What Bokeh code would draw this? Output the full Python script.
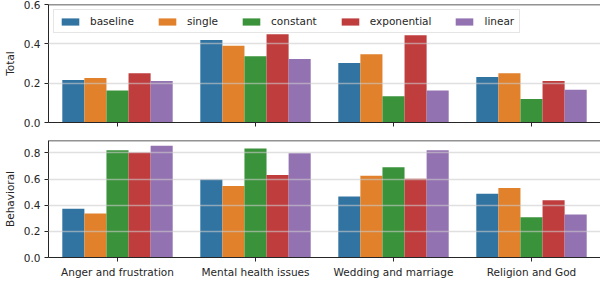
from bokeh.plotting import figure
from bokeh.layouts import column
from bokeh.models import ColumnDataSource, FactorRange, Range1d, FixedTicker, PrintfTickFormatter, Span, Legend
from bokeh.transform import dodge
from bokeh.embed import file_html
from bokeh.resources import INLINE

categories = ["Anger and frustration", "Mental health issues", "Wedding and marriage", "Religion and God"]
series = ["baseline", "single", "constant", "exponential", "linear"]
colors = ["#3274a1", "#e1812c", "#3a923a", "#c03d3e", "#9372b2"]

total_baseline = [0.216, 0.420, 0.303, 0.231]
total_single = [0.226, 0.390, 0.347, 0.250]
total_constant = [0.163, 0.337, 0.133, 0.119]
total_exponential = [0.250, 0.449, 0.444, 0.211]
total_linear = [0.211, 0.323, 0.163, 0.167]

beh_baseline = [0.373, 0.596, 0.466, 0.488]
beh_single = [0.337, 0.546, 0.625, 0.531]
beh_constant = [0.820, 0.834, 0.690, 0.308]
beh_exponential = [0.803, 0.632, 0.603, 0.437]
beh_linear = [0.855, 0.798, 0.820, 0.329]

total_src = ColumnDataSource(dict(cat=categories, baseline=total_baseline, single=total_single,
                                  constant=total_constant, exponential=total_exponential, linear=total_linear))
beh_src = ColumnDataSource(dict(cat=categories, baseline=beh_baseline, single=beh_single,
                                constant=beh_constant, exponential=beh_exponential, linear=beh_linear))

offsets = [-0.32, -0.16, 0.0, 0.16, 0.32]
FONT = "DejaVu Sans"
FS = "10.5px"
DARK = "#262626"


def style(p, ymax, ticks, ylabel, show_xlabels):
    p.y_range = Range1d(0, ymax)
    p.yaxis.ticker = FixedTicker(ticks=ticks)
    p.yaxis.formatter = PrintfTickFormatter(format="%.1f")
    p.yaxis.axis_label = ylabel
    for ax in (p.xaxis[0], p.yaxis[0]):
        ax.major_label_text_font = FONT
        ax.major_label_text_font_size = FS
        ax.major_label_text_color = DARK
        ax.axis_label_text_font = FONT
        ax.axis_label_text_font_size = FS
        ax.axis_label_text_font_style = "normal"
        ax.axis_label_text_color = DARK
        ax.axis_line_color = DARK
        ax.major_tick_line_color = DARK
        ax.major_tick_in = 0
        ax.major_tick_out = 4
        ax.minor_tick_line_color = None
        ax.major_label_standoff = 4
    p.yaxis.axis_label_standoff = 5
    if not show_xlabels:
        p.xaxis.major_label_text_color = None
        p.xaxis.major_label_standoff = 0
    p.xgrid.grid_line_color = None
    p.ygrid.grid_line_color = "#cccccc"
    p.ygrid.grid_line_alpha = 0.6
    p.ygrid.grid_line_width = 1.3
    p.ygrid.level = "annotation"
    p.outline_line_color = None
    p.add_layout(Span(location=ymax, dimension="width", line_color=DARK, line_width=1.3))


top = figure(x_range=FactorRange(*categories, range_padding=0), width=600, height=140,
             output_backend="svg", toolbar_location=None,
             min_border_left=40, min_border_right=0, min_border_top=4, min_border_bottom=18)
bot = figure(x_range=top.x_range, width=600, height=140,
             output_backend="svg", toolbar_location=None,
             min_border_left=40, min_border_right=0, min_border_top=0, min_border_bottom=20)

items = []
for s, off, c in zip(series, offsets, colors):
    r = top.vbar(x=dodge("cat", off, range=top.x_range), top=s, width=0.16, source=total_src,
                 fill_color=c, line_color=None)
    items.append((s, [r]))
    bot.vbar(x=dodge("cat", off, range=bot.x_range), top=s, width=0.16, source=beh_src,
             fill_color=c, line_color=None)

style(top, 0.6, [0.0, 0.2, 0.4, 0.6], "Total", False)
style(bot, 0.895, [0.0, 0.2, 0.4, 0.6, 0.8], "Behavioral", True)

legend = Legend(items=items, location="top_left", orientation="horizontal",
                label_text_font=FONT, label_text_font_size=FS, label_text_color=DARK,
                glyph_width=22, glyph_height=9, label_height=10, label_standoff=9,
                spacing=22, padding=5, margin=5,
                border_line_color="#cccccc", border_line_width=1,
                background_fill_alpha=0.8)
top.add_layout(legend)

layout = column(top, bot, spacing=0)
open("out.html", "w").write(file_html(layout, INLINE))
